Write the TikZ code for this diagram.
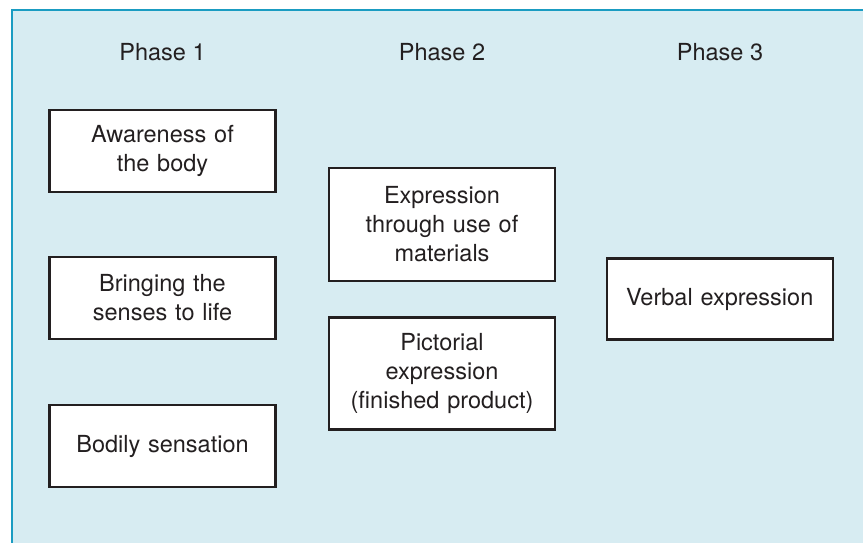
\documentclass[tikz,border=0pt]{standalone}
\usepackage{fontspec}
\setmainfont{TeX Gyre Heros}
\definecolor{panelfill}{HTML}{D7ECF2}
\definecolor{panelborder}{HTML}{1A9CC2}
\definecolor{inktext}{HTML}{231F20}
\begin{document}
\begin{tikzpicture}[x=1pt,y=-1pt,
  phaselabel/.style={text=inktext,font=\fontsize{23.5}{29}\selectfont,inner sep=0pt},
  stagebox/.style={draw=inktext,line width=2.4pt,fill=white,text=inktext,
    font=\fontsize{23.5}{29}\selectfont,align=center,inner sep=0pt,
    minimum width=226pt,text width=220pt}]
\useasboundingbox (0,0) rectangle (863,543);
\fill[panelfill] (12,10) rectangle (863,543);
\draw[panelborder,line width=2.2pt] (12,543) -- (12,10) -- (863,10);
% phase labels
\node[phaselabel] (p1) at (162.5,52) {Phase 1};
\node[phaselabel] (p2) at (442,52) {Phase 2};
\node[phaselabel] (p3) at (720,52) {Phase 3};
% phase 1
\node[stagebox,minimum height=82pt] (a1) at (162.5,151) {Awareness of\\the body};
\node[stagebox,minimum height=82pt] (b1) at (162.5,298) {Bringing the\\senses to life};
\node[stagebox,minimum height=82pt] (c1) at (162.5,446) {Bodily sensation};
% phase 2
\node[stagebox,minimum height=113pt] (a2) at (442,224.5) {Expression\\through use of\\materials};
\node[stagebox,minimum height=112pt] (b2) at (442,373.5) {Pictorial\\expression\\(finished product)};
% phase 3
\node[stagebox,minimum height=81pt] (v3) at (719.7,299) {Verbal expression};
\end{tikzpicture}
\end{document}
